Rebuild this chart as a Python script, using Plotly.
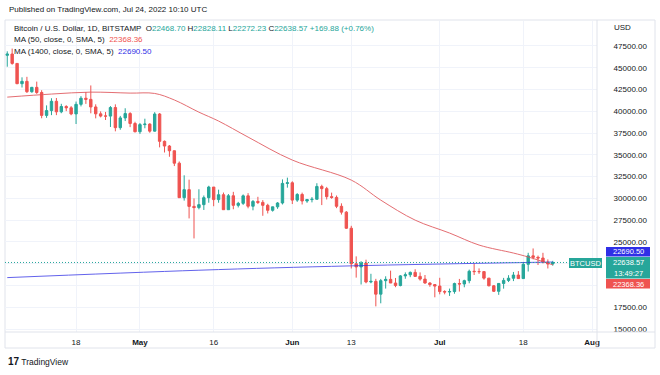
import plotly.graph_objects as go
import pandas as pd

# ---------------- data ----------------
dates = pd.date_range("2022-04-04", "2022-07-24", freq="D")

open_apr = [46430, 46580, 45500, 43170, 43440, 42250, 42750, 42160, 39530, 40080, 41150, 39940, 40550, 40400,
            39700, 40800, 41500, 41370, 40500, 39710, 39450, 39450, 40430, 38120, 39240, 39740, 38600]
high_apr = [46890, 47200, 45500, 43900, 43960, 42800, 43410, 42420, 40680, 41500, 41530, 40860, 40700, 40600,
            41120, 41740, 42200, 42970, 40800, 39990, 39930, 40600, 40800, 39470, 40350, 39900, 38800]
low_apr = [45120, 45350, 43120, 42730, 42110, 42130, 42000, 39200, 39250, 39560, 39560, 39780, 40020, 39550,
           38540, 40560, 40850, 39770, 39190, 39300, 39000, 38200, 37700, 37880, 38880, 38180, 37580]
close_apr = [46580, 45500, 43170, 43440, 42250, 42750, 42160, 39530, 40080, 41150, 39940, 40550, 40400, 39700,
             40800, 41500, 41370, 40500, 39710, 39450, 39450, 40430, 38120, 39240, 39740, 38600, 37650]

open_may = [37650, 38470, 38530, 37720, 39690, 36550, 36010, 35470, 34040, 30080, 31000, 29080, 28940, 29280,
            30080, 31300, 29860, 30420, 28700, 30300, 29200, 29430, 30290, 29100, 29650, 29540, 29200, 28630,
            29030, 29470, 31720]
high_may = [38660, 39150, 38630, 39900, 39800, 36650, 36130, 35500, 34240, 32650, 32150, 30000, 31050, 30330,
            31450, 31300, 31000, 30670, 30500, 30750, 29600, 30450, 30600, 29810, 30180, 29800, 29380, 29000,
            29570, 32180, 32380]
low_may = [37400, 38050, 37540, 37680, 35860, 35270, 34780, 33710, 30050, 29740, 27700, 25400, 28740, 28670,
           29500, 29100, 29500, 28680, 28700, 28750, 28960, 29250, 28860, 28630, 29350, 28000, 28270, 28480,
           28800, 29300, 31230]
close_may = [38470, 38530, 37720, 39690, 36550, 36010, 35470, 34040, 30080, 31000, 29080, 28940, 29280, 30080,
             31300, 29860, 30420, 28700, 30300, 29200, 29430, 30290, 29100, 29650, 29540, 29200, 28630, 29030,
             29470, 31720, 31790]

open_jun = [31790, 29800, 30450, 29700, 29860, 29900, 31370, 31120, 30200, 30110, 29090, 28420, 26570, 22490,
            22130, 22580, 20400, 20470, 19000, 20550, 20700, 20280, 19990, 21100, 21230, 21500, 21040, 20730,
            20280, 20100]
high_jun = [31960, 30600, 30660, 29940, 30150, 31740, 31570, 31320, 30660, 30330, 29430, 28540, 26850, 23340,
            22790, 22960, 21340, 20760, 20750, 21050, 21700, 20860, 21200, 21500, 21600, 21860, 21500, 21200,
            20380, 20150]
low_jun = [29350, 29600, 29300, 29490, 29540, 29870, 29230, 29870, 29950, 28880, 28140, 26500, 21950, 20900,
           20110, 20250, 20250, 17600, 17950, 19640, 20350, 19800, 19900, 20770, 20950, 20980, 20550, 20200,
           19850, 18640]
close_jun = [29800, 30450, 29700, 29860, 29900, 31370, 31120, 30200, 30110, 29090, 28420, 26570, 22490, 22130,
             22580, 20400, 20470, 19000, 20550, 20700, 20280, 19990, 21100, 21230, 21500, 21040, 20730, 20280,
             20100, 19930]

open_jul = [19930, 19300, 19250, 19300, 20220, 20170, 20550, 21630, 21590, 21590, 20840, 19960, 19330, 20230,
            20580, 20830, 21190, 20790, 22430, 23400, 23230, 23150, 22680, 22468.70]
high_jul = [20880, 19450, 19640, 20320, 20750, 20660, 21820, 22500, 21960, 21600, 20860, 20050, 20240, 20870,
            21180, 21550, 21650, 22700, 23750, 24250, 23430, 23750, 22990, 22828.11]
low_jul = [18980, 18980, 18800, 19050, 19300, 19790, 20250, 21200, 21330, 20660, 19900, 19250, 18920, 19630,
           20390, 20500, 20770, 20770, 21600, 23000, 22350, 22530, 21950, 22272.23]
close_jul = [19300, 19250, 19300, 20220, 20170, 20550, 21630, 21590, 21590, 20840, 19960, 19330, 20230, 20580,
             20830, 21190, 20790, 22430, 23400, 23230, 23150, 22680, 22460, 22638.57]

opens = open_apr + open_may + open_jun + open_jul
highs = high_apr + high_may + high_jun + high_jul
lows = low_apr + low_may + low_jun + low_jul
closes = close_apr + close_may + close_jun + close_jul

ma50_dates = ["2022-04-04", "2022-04-13", "2022-04-21", "2022-04-29", "2022-05-04", "2022-05-08",
              "2022-05-13", "2022-05-17", "2022-05-23", "2022-06-01", "2022-06-13", "2022-06-19",
              "2022-06-26", "2022-07-03", "2022-07-09", "2022-07-16", "2022-07-19", "2022-07-24"]
ma50_vals = [41630, 41980, 42200, 42090, 42050, 41300, 39900, 38880, 37040, 34400, 32100, 29800,
             27500, 26020, 24640, 23720, 23270, 22368.36]

ma1400_dates = ["2022-04-04", "2022-05-13", "2022-06-13", "2022-07-24"]
ma1400_vals = [20900, 21750, 22250, 22690.50]

last_close = 22638.57
ma50_last = 22368.36
ma1400_last = 22690.50

y_ticks = [15000, 17500, 20000, 22500, 25000, 27500, 30000, 32500, 35000, 37500, 40000, 42500, 45000, 47500]
y_hidden = [20000, 22500]  # tick labels covered by the price labels
x_tick_dates = ["2022-04-18", "2022-05-01", "2022-05-16", "2022-06-01", "2022-06-13", "2022-07-01",
                "2022-07-18", "2022-08-01"]
x_tick_text = ["18", "<b>May</b>", "16", "<b>Jun</b>", "13", "<b>Jul</b>", "18", "<b>Aug</b>"]

# ---------------- styling ----------------
UP = "#26a69a"
DOWN = "#ef5350"
BLUE = "#2f2fe6"
FONT = "Liberation Sans"
W, H = 660, 375
L, R, T, B = 5, 597, 21, 332


def px(x):
    return (x - L) / (R - L)


def py(y):
    return (B - y) / (B - T)


fig = go.Figure()

fig.add_trace(go.Scatter(x=ma1400_dates, y=ma1400_vals, mode="lines",
                         line=dict(color=BLUE, width=1, shape="spline"), opacity=0.75, hoverinfo="skip"))
fig.add_trace(go.Scatter(x=ma50_dates, y=ma50_vals, mode="lines",
                         line=dict(color="#e0555a", width=1, shape="spline"), opacity=0.85, hoverinfo="skip"))

fig.add_trace(go.Candlestick(
    x=dates, open=opens, high=highs, low=lows, close=closes,
    increasing=dict(line=dict(color=UP, width=1), fillcolor=UP),
    decreasing=dict(line=dict(color=DOWN, width=1), fillcolor=DOWN),
    whiskerwidth=0,
))

fig.update_layout(
    width=W, height=H,
    margin=dict(l=L, r=W - R, t=T, b=H - B),
    paper_bgcolor="white", plot_bgcolor="white",
    showlegend=False,
    font=dict(family=FONT, size=8, color="#131722"),
    xaxis=dict(
        type="date",
        range=["2022-04-03 13:00", "2022-08-02 00:00"],
        tickvals=x_tick_dates, ticktext=x_tick_text,
        showgrid=True, gridcolor="#f0f3fa", gridwidth=1,
        zeroline=False, showline=False,
        rangeslider=dict(visible=False),
        tickfont=dict(size=8, color="#131722"),
        ticks="outside", ticklen=2, tickcolor="rgba(0,0,0,0)",
    ),
    yaxis=dict(
        side="right",
        range=[14655, 50370],
        tickvals=y_ticks, ticktext=["" if v in y_hidden else f"{v:.2f}" for v in y_ticks],
        showgrid=True, gridcolor="#f0f3fa", gridwidth=1,
        zeroline=False, showline=False,
        tickfont=dict(size=8, color="#131722"),
        ticks="outside", ticklen=14, tickcolor="rgba(0,0,0,0)",
    ),
)

shapes = []
# panel frame
shapes.append(dict(type="rect", xref="paper", yref="paper", x0=px(5), x1=px(655), y0=py(348), y1=py(20),
                   line=dict(color="#e0e3eb", width=1), layer="below"))
# separators
shapes.append(dict(type="line", xref="paper", yref="paper", x0=px(597), x1=px(597), y0=py(348), y1=py(20),
                   line=dict(color="#e0e3eb", width=1)))
shapes.append(dict(type="line", xref="paper", yref="paper", x0=px(5), x1=px(655), y0=py(332), y1=py(332),
                   line=dict(color="#e0e3eb", width=1)))
# last price dotted line
shapes.append(dict(type="line", xref="paper", yref="y", x0=0, x1=1, y0=last_close, y1=last_close,
                   line=dict(color=UP, width=1, dash="1px,2px")))
# axis price label boxes
shapes.append(dict(type="rect", xref="paper", yref="paper", x0=px(606), x1=px(650), y0=py(256.5), y1=py(247),
                   fillcolor=BLUE, line=dict(width=0)))
shapes.append(dict(type="rect", xref="paper", yref="paper", x0=px(606), x1=px(650), y0=py(278.5), y1=py(257),
                   fillcolor=UP, line=dict(width=0)))
shapes.append(dict(type="rect", xref="paper", yref="paper", x0=px(606), x1=px(650), y0=py(288.5), y1=py(279),
                   fillcolor=DOWN, line=dict(width=0)))
shapes.append(dict(type="rect", xref="paper", yref="paper", x0=px(569), x1=px(602), y0=py(268), y1=py(258),
                   fillcolor=UP, line=dict(width=0)))
fig.update_layout(shapes=shapes)

ann = []
ann.append(dict(text="Published on TradingView.com, Jul 24, 2022 10:10 UTC", xref="paper", yref="paper",
                x=px(7), y=py(10), xanchor="left", yanchor="middle", showarrow=False,
                font=dict(size=8, color="#131722")))
g = UP
leg1 = ("Bitcoin / U.S. Dollar, 1D, BITSTAMP  "
        f"O<span style='color:{g}'>22468.70</span> H<span style='color:{g}'>22828.11</span> "
        f"L<span style='color:{g}'>22272.23</span> C<span style='color:{g}'>22638.57</span> "
        f"<span style='color:{g}'>+169.88 (+0.76%)</span>")
ann.append(dict(text=leg1, xref="paper", yref="paper", x=px(12), y=py(28), xanchor="left", yanchor="middle",
                showarrow=False, font=dict(size=8, color="#131722")))
ann.append(dict(text=f"MA (50, close, 0, SMA, 5)  <span style='color:{DOWN}'>{ma50_last:.2f}</span>",
                xref="paper", yref="paper", x=px(12), y=py(40), xanchor="left", yanchor="middle",
                showarrow=False, font=dict(size=8, color="#131722")))
ann.append(dict(text=f"MA (1400, close, 0, SMA, 5)  <span style='color:{BLUE}'>{ma1400_last:.2f}</span>",
                xref="paper", yref="paper", x=px(12), y=py(51), xanchor="left", yanchor="middle",
                showarrow=False, font=dict(size=8, color="#131722")))
ann.append(dict(text="USD", xref="paper", yref="paper", x=px(612), y=py(27), xanchor="left", yanchor="middle",
                showarrow=False, font=dict(size=8, color="#131722")))
# price labels on the axis (text over the boxes)
lab_font = dict(size=7.5, color="white")
for txt, yy in [(f"{ma1400_last:.2f}", 251.8), (f"{last_close:.2f}", 262.2), ("13:49:27", 273.2),
                (f"{ma50_last:.2f}", 284)]:
    ann.append(dict(text=txt, xref="paper", yref="paper", x=px(628), y=py(yy),
                    xanchor="center", yanchor="middle", showarrow=False, font=lab_font, borderpad=0))
ann.append(dict(text="BTCUSD", xref="paper", yref="paper", x=px(585.5), y=py(263),
                xanchor="center", yanchor="middle", showarrow=False, font=lab_font, borderpad=0))
# logo
ann.append(dict(text="<b><span style='font-size:10px'>17</span></b> TradingView", xref="paper", yref="paper",
                x=px(6), y=py(361), xanchor="left", yanchor="middle", showarrow=False,
                font=dict(size=8.5, color="#131722")))
fig.update_layout(annotations=ann)

fig.write_html("out.html", post_script="document.body.style.margin='0';",
               config={"displayModeBar": False})
